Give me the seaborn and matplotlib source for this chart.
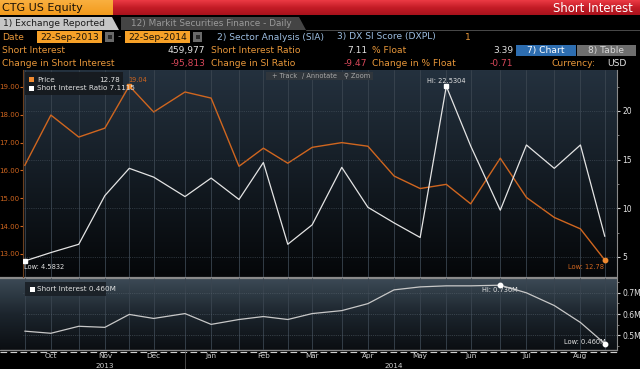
import matplotlib
matplotlib.use('Agg')
import matplotlib.pyplot as plt
import matplotlib.dates as mdates
from matplotlib.colors import LinearSegmentedColormap
from matplotlib.patches import Rectangle, Polygon
from matplotlib.ticker import FuncFormatter, MultipleLocator, FixedLocator
import numpy as np
import pandas as pd
import seaborn as sns

# Short interest settlement dates (semi-monthly)
settle_dates = ['2013-09-30', '2013-10-15', '2013-10-31', '2013-11-15', '2013-11-29',
                '2013-12-13', '2013-12-31', '2014-01-15', '2014-01-31', '2014-02-14',
                '2014-02-28', '2014-03-14', '2014-03-31', '2014-04-15', '2014-04-30',
                '2014-05-15', '2014-05-30', '2014-06-13', '2014-06-30', '2014-07-15',
                '2014-07-31', '2014-08-15', '2014-08-29']
price = [16.18, 17.99, 17.20, 17.52, 19.04, 18.10, 18.82, 18.60, 16.15, 16.80,
         16.26, 16.83, 17.00, 16.87, 15.80, 15.35, 15.50, 14.80, 16.44, 15.03,
         14.31, 13.90, 12.78]
si_ratio = [4.5832, 5.45, 6.3, 11.3, 14.1, 13.2, 11.2, 13.1, 10.9, 14.7,
            6.3, 8.3, 14.2, 10.1, 8.5, 7.0, 22.5304, 16.4, 9.8, 16.5,
            14.1, 16.5, 7.1115]
short_interest_m = [0.519, 0.509, 0.542, 0.537, 0.598, 0.579, 0.602, 0.551, 0.574, 0.588,
                    0.574, 0.602, 0.616, 0.649, 0.714, 0.728, 0.733, 0.733, 0.736, 0.700,
                    0.640, 0.560, 0.460]

price_ticks = [13, 14, 15, 16, 17, 18, 19]
ratio_ticks = [5, 10, 15, 20]
si_ticks = [0.5, 0.6, 0.7]
year_labels = {'2013': '2013-11-15', '2014': '2014-04-30'}

df = pd.DataFrame({'date': pd.to_datetime(settle_dates), 'price': price,
                   'si_ratio': si_ratio, 'short_m': short_interest_m})

# Colours
ORANGE_TXT = '#e8973a'
WHITE_TXT = '#e2e2e2'
RED_TXT = '#d8485a'
BLUE_TXT = '#9cbde0'
PRICE_C = '#d0661f'
RATIO_C = '#e4e4e4'
SI_C = '#c8c8c8'
GRID_C = '#3a4550'
FS = 6.6  # header font size

sns.set_theme(style='dark', rc={'figure.facecolor': 'black', 'axes.facecolor': 'none',
                                'savefig.facecolor': 'black'})
plt.rcParams['font.family'] = ['DejaVu Sans']

W, H = 640, 369
fig = plt.figure(figsize=(W / 100, H / 100), dpi=100, facecolor='black')


def frect(x0, y0, x1, y1):
    return [x0 / W, 1 - y1 / H, (x1 - x0) / W, (y1 - y0) / H]


def grad(ax, x0, y0, x1, y1, colors, z=0):
    cmap = LinearSegmentedColormap.from_list('g', colors)
    arr = np.linspace(0, 1, 128).reshape(-1, 1)
    ax.imshow(arr, cmap=cmap, extent=(x0, x1, y1, y0), origin='upper',
              aspect='auto', zorder=z, interpolation='bilinear')


# ---------- background / header layer (pixel coordinates) ----------
bg = fig.add_axes([0, 0, 1, 1], zorder=0)
bg.set_xlim(0, W)
bg.set_ylim(H, 0)
bg.set_autoscale_on(False)
bg.axis('off')

grad(bg, 0, 0, 113, 15, ['#f9b040', '#f29a1c'])
grad(bg, 113, 0, 640, 15, ['#ec3a44', '#c41c26', '#a8121c'])
bg.text(2, 8, 'CTG US Equity', color='#1a1208', fontsize=8.0, va='center', ha='left')
bg.text(633, 8, 'Short Interest', color='white', fontsize=8.4, va='center', ha='right')

# tabs
bg.add_patch(Polygon([(0, 30), (0, 17), (112, 17), (119, 30)], closed=True,
                     facecolor='#c6c6c6', edgecolor='none'))
bg.add_patch(Polygon([(121, 30), (121, 17), (299, 17), (306, 30)], closed=True,
                     facecolor='#444444', edgecolor='none'))
bg.plot([306, 640], [29.5, 29.5], color='#555555', lw=0.6)
bg.text(3, 24, '1) Exchange Reported', color='#1a1a1a', fontsize=FS, va='center')
bg.text(131, 24, '12) Markit Securities Finance - Daily', color='#9a9a9a', fontsize=6.4,
        va='center')

# date row
bg.text(2, 37, 'Date', color=ORANGE_TXT, fontsize=FS, va='center')
for x0, x1, s in [(37, 102, '22-Sep-2013'), (125, 190, '22-Sep-2014')]:
    bg.add_patch(Rectangle((x0, 31), x1 - x0, 12, facecolor='#f7a128', edgecolor='none'))
    bg.text((x0 + x1) / 2, 37, s, color='#1a1208', fontsize=FS, va='center', ha='center')
for x0 in [105, 193]:
    bg.add_patch(Rectangle((x0, 32), 9, 10, facecolor='#6a6a6a', edgecolor='none'))
    bg.add_patch(Rectangle((x0 + 2.5, 35), 4, 4, facecolor='#2a2a2a', edgecolor='none'))
bg.text(119, 37, '-', color='#8a8a8a', fontsize=FS, va='center', ha='center')
bg.text(217, 37, '2) Sector Analysis (SIA)', color=BLUE_TXT, fontsize=FS, va='center')
bg.text(337, 37, '3) DX SI Score (DXPL)', color=BLUE_TXT, fontsize=FS, va='center')
bg.text(465, 37, '1', color=ORANGE_TXT, fontsize=FS, va='center')

# stats rows
rows = [
    (50.5, [('Short Interest', 2), ('Short Interest Ratio', 211), ('% Float', 372)],
     [('459,977', 205), ('7.11', 367), ('3.39', 513)], WHITE_TXT),
    (63.5, [('Change in Short Interest', 2), ('Change in SI Ratio', 211), ('Change in % Float', 372)],
     [('-95,813', 205), ('-9.47', 367), ('-0.71', 513)], RED_TXT),
]
for y, labels, values, vcol in rows:
    for s, x in labels:
        bg.text(x, y, s, color=ORANGE_TXT, fontsize=FS, va='center')
    for s, x in values:
        bg.text(x, y, s, color=vcol, fontsize=FS, va='center', ha='right')

bg.add_patch(Rectangle((516, 45), 60, 11, facecolor='#2d6db0', edgecolor='none'))
bg.add_patch(Rectangle((577, 45), 59, 11, facecolor='#6e6e6e', edgecolor='none'))
bg.text(546, 50.5, '7) Chart', color='white', fontsize=FS, va='center', ha='center')
bg.text(606, 50.5, '8) Table', color='#d8d8d8', fontsize=FS, va='center', ha='center')
bg.text(552, 63.5, 'Currency:', color=ORANGE_TXT, fontsize=FS, va='center')
bg.text(607, 63.5, 'USD', color=WHITE_TXT, fontsize=FS, va='center')

# panel backgrounds
grad(bg, 23, 70, 617, 277, ['#24313e', '#141c24', '#050709'])
grad(bg, 0, 278, 617, 350, ['#3c4a56', '#1c252d', '#0b0e12'])
bg.plot([0, 617], [277.5, 277.5], color='#8a8a8a', lw=1.6)
bg.plot([0, 617], [350, 350], color='#8c8c8c', lw=1.0)
bg.plot([0, 617], [351.5, 351.5], color='#d0d0d0', lw=0.8, ls=(0, (6, 3)))

# ---------- main chart: price (left) and SI ratio (right) ----------
ax = fig.add_axes(frect(23, 70, 617, 277), zorder=2)
ax.set_facecolor('none')
sns.lineplot(data=df, x='date', y='price', ax=ax, color=PRICE_C, lw=1.0)
ax2 = ax.twinx()
sns.lineplot(data=df, x='date', y='si_ratio', ax=ax2, color=RATIO_C, lw=0.9)

axl = fig.add_axes(frect(23, 278, 617, 350), zorder=2, sharex=ax)
axl.set_facecolor('none')
sns.lineplot(data=df, x='date', y='short_m', ax=axl, color=SI_C, lw=0.9)

xmin, xmax = pd.Timestamp('2013-09-29'), pd.Timestamp('2014-09-05')
ax.set_xlim(xmin, xmax)
ax.set_ylim(12.17, 19.61)
ax2.set_ylim(2.94, 24.2)
axl.set_ylim(0.43, 0.77)

for a in (ax, ax2, axl):
    a.set_xlabel('')
    a.set_ylabel('')
    for sp in a.spines.values():
        sp.set_visible(False)

# vertical grid at each settlement date
ax.xaxis.set_major_locator(FixedLocator(mdates.date2num(df['date'])))
month_ends = mdates.date2num(df['date'][df['date'].dt.day > 25])
ax.xaxis.set_minor_locator(FixedLocator(month_ends))
ax.xaxis.remove_overlapping_locs = False


def month_fmt(v, pos):
    d = mdates.num2date(v)
    return d.strftime('%b') if 10 <= d.day <= 20 else ''


ax.xaxis.set_major_formatter(FuncFormatter(month_fmt))
for a in (ax, axl):
    a.grid(axis='x', color=GRID_C, lw=0.6, ls='-')
    a.grid(axis='y', visible=False)
ax2.grid(axis='x', visible=False)
ax.tick_params(axis='x', which='both', length=0, labelbottom=False)
axl.tick_params(axis='x', which='major', length=0, labelbottom=True, labelsize=5.2,
                labelcolor='#d0d0d0', pad=2.2)
axl.tick_params(axis='x', which='minor', length=2.5, color='#d0d0d0', width=0.6,
                direction='out', labelbottom=False)

# left price axis
ax.set_yticks(price_ticks)
ax.yaxis.set_major_formatter(FuncFormatter(lambda v, p: f'{v:.2f}'))
ax.tick_params(axis='y', which='major', left=True, length=2, width=0.8, color=PRICE_C,
               labelsize=5, labelcolor=PRICE_C, pad=0.5)
ax.spines['left'].set_visible(True)
ax.spines['left'].set_color('#6b3f1e')
ax.spines['left'].set_linewidth(0.8)

# right ratio axis
ax2.set_yticks(ratio_ticks)
ax2.yaxis.set_minor_locator(MultipleLocator(2.5))
ax2.tick_params(axis='y', which='major', right=True, length=2.5, width=0.8, color='#d0d0d0',
                labelsize=5.5, labelcolor=WHITE_TXT, pad=1.5)
ax2.tick_params(axis='y', which='minor', right=True, length=1.2, width=0.6, color='#909090')
ax2.grid(axis='y', which='major', color='#4c5863', lw=0.5, ls=':')
ax2.spines['right'].set_visible(True)
ax2.spines['right'].set_color('#8a8a8a')
ax2.spines['right'].set_linewidth(0.8)

# lower short interest axis
axl.yaxis.tick_right()
axl.set_yticks(si_ticks)
axl.yaxis.set_minor_locator(MultipleLocator(0.05))
axl.yaxis.set_major_formatter(FuncFormatter(lambda v, p: f'{v:.1f}M'))
axl.tick_params(axis='y', which='major', left=False, right=True, length=2.5, width=0.8,
                color='#d0d0d0', labelsize=5.5, labelcolor=WHITE_TXT, pad=1.5)
axl.tick_params(axis='y', which='minor', left=False, right=True, length=1.2, width=0.6,
                color='#909090')
axl.grid(axis='y', which='major', color='#56626c', lw=0.5, ls=':')
axl.spines['right'].set_visible(True)
axl.spines['right'].set_color('#8a8a8a')
axl.spines['right'].set_linewidth(0.8)

# year labels and year separator
for yr, d in year_labels.items():
    axl.text(pd.Timestamp(d), -0.225, yr, transform=axl.get_xaxis_transform(),
             color='#d0d0d0', fontsize=5.2, ha='center', va='center', clip_on=False)
axl.plot([pd.Timestamp('2013-12-31')] * 2, [-0.02, -0.27], transform=axl.get_xaxis_transform(),
         color='#555555', lw=0.6, clip_on=False)

# hi / low markers and labels
ip_hi, ip_lo = df['price'].idxmax(), df['price'].idxmin()
ir_hi, ir_lo = df['si_ratio'].idxmax(), df['si_ratio'].idxmin()
is_hi, is_lo = df['short_m'].idxmax(), df['short_m'].idxmin()

ax.plot(df['date'][ip_hi], df['price'][ip_hi], marker='s', ms=3.2, color='#f08a30', zorder=5)
ax.annotate(f"{df['price'][ip_hi]:.2f}", (df['date'][ip_hi], df['price'][ip_hi]),
            xytext=(-1, 2), textcoords='offset points', color=PRICE_C, fontsize=4.8,
            ha='left', va='bottom')
ax.plot(df['date'][ip_lo], df['price'][ip_lo], marker='o', ms=3.2, color='#f08a30', zorder=5)
ax.annotate(f"Low: {df['price'][ip_lo]:.2f}", (df['date'][ip_lo], df['price'][ip_lo]),
            xytext=(-0.5, -3), textcoords='offset points', color=PRICE_C, fontsize=4.8,
            ha='right', va='top')

ax2.plot(df['date'][ir_hi], df['si_ratio'][ir_hi], marker='s', ms=3.0, color='white', zorder=5)
ax2.annotate(f"Hi: {df['si_ratio'][ir_hi]:.4f}", (df['date'][ir_hi], df['si_ratio'][ir_hi]),
             xytext=(0, 1.5), textcoords='offset points', color=WHITE_TXT, fontsize=4.8,
             ha='center', va='bottom')
ax2.plot(df['date'][ir_lo], df['si_ratio'][ir_lo], marker='s', ms=3.0, color='white', zorder=5)
ax2.annotate(f"Low: {df['si_ratio'][ir_lo]:.4f}", (df['date'][ir_lo], df['si_ratio'][ir_lo]),
             xytext=(-0.5, -2), textcoords='offset points', color=WHITE_TXT, fontsize=4.8,
             ha='left', va='top')

axl.plot(df['date'][is_hi], df['short_m'][is_hi], marker='o', ms=3.2, color='white', zorder=5)
axl.annotate(f"Hi: {df['short_m'][is_hi]:.3f}M", (df['date'][is_hi], df['short_m'][is_hi]),
             xytext=(0, -1), textcoords='offset points', color=WHITE_TXT, fontsize=4.8,
             ha='center', va='top')
axl.plot(df['date'][is_lo], df['short_m'][is_lo], marker='o', ms=3.2, color='white', zorder=5)
axl.annotate(f"Low: {df['short_m'][is_lo]:.3f}M", (df['date'][is_lo], df['short_m'][is_lo]),
             xytext=(0.5, 1.5), textcoords='offset points', color=WHITE_TXT, fontsize=4.8,
             ha='right', va='center')

# ---------- overlay: legends and toolbar (pixel coordinates) ----------
fg = fig.add_axes([0, 0, 1, 1], zorder=5)
fg.set_xlim(0, W)
fg.set_ylim(H, 0)
fg.set_autoscale_on(False)
fg.axis('off')

fg.add_patch(Rectangle((25, 72), 98, 23, facecolor='#161a1e', edgecolor='none', alpha=0.92))
fg.add_patch(Rectangle((29, 77), 5, 5, facecolor='#f08a30', edgecolor='none'))
fg.add_patch(Rectangle((29, 85.5), 5, 5, facecolor='white', edgecolor='none'))
fg.text(37, 79.5, 'Price', color=WHITE_TXT, fontsize=5.2, va='center')
fg.text(120, 79.5, f'{price[-1]:.2f}', color=WHITE_TXT, fontsize=5.2, va='center', ha='right')
fg.text(37, 88, f'Short Interest Ratio {si_ratio[-1]:.4f}', color=WHITE_TXT, fontsize=5.2,
        va='center')

fg.add_patch(Rectangle((25, 282), 81, 14, facecolor='#1a2026', edgecolor='none', alpha=0.92))
fg.add_patch(Rectangle((30, 286.5), 5, 5, facecolor='white', edgecolor='none'))
fg.text(37, 289, f'Short Interest {short_interest_m[-1]:.3f}M', color=WHITE_TXT, fontsize=5.2,
        va='center')

fg.add_patch(Rectangle((266, 71.5), 107, 8.5, facecolor='#30363c', edgecolor='none'))
fg.text(272, 75.7, '+ Track', color='#a8a8a8', fontsize=4.8, va='center')
fg.text(302, 75.7, '/ Annotate', color='#a8a8a8', fontsize=4.8, va='center')
fg.text(344, 75.7, '\u26b2 Zoom', color='#a8a8a8', fontsize=4.8, va='center')

fig.savefig('out.png', dpi=100, facecolor='black')
